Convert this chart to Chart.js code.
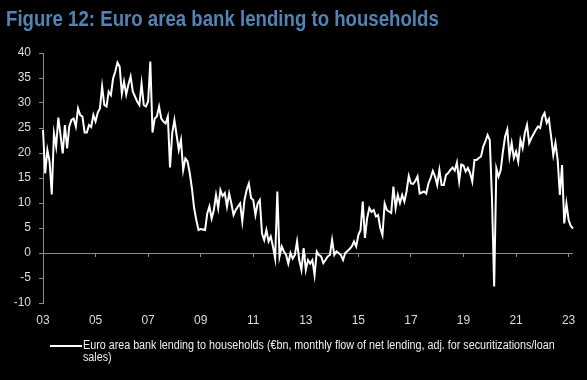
<!DOCTYPE html>
<html>
<head>
<meta charset="utf-8">
<script src="https://cdn.jsdelivr.net/npm/chart.js@4.4.1/dist/chart.umd.min.js"></script>
<style>
html,body{margin:0;padding:0;background:#000;}
#wrap{position:relative;width:587px;height:380px;overflow:hidden;background:#000;}
#chart{position:absolute;left:0;top:0;}
#title{position:absolute;left:6px;top:8px;font-family:"Liberation Sans",Arial,sans-serif;font-weight:bold;font-size:22px;line-height:22px;color:#5283B4;white-space:nowrap;transform:scaleX(0.847);transform-origin:0 0;}
#legLine{position:absolute;left:50px;top:344.5px;width:32px;height:2px;background:#fff;}
#legText{position:absolute;left:83px;top:339px;font-family:"Liberation Sans",Arial,sans-serif;font-size:12px;line-height:12px;color:#f0f0f0;white-space:nowrap;transform:scaleX(0.895);transform-origin:0 0;}
</style>
</head>
<body>
<div id="wrap">
  <canvas id="chart" width="587" height="380"></canvas>
  <div id="title">Figure 12: Euro area bank lending to households</div>
  <div id="legLine"></div>
  <div id="legText"></div>
</div>
<script>
// ---- data ----
const startYear = 2003;
const nMonths = 243; // Jan 2003 .. Mar 2023
const months = [];
for (let i = 0; i < nMonths; i++) {
  const y = startYear + Math.floor(i / 12), m = (i % 12) + 1;
  months.push(y + '-' + String(m).padStart(2, '0'));
}
const seriesLabel = 'Euro area bank lending to households (€bn, monthly flow of net lending, adj. for securitizations/loan sales)';
const legendLines = ['Euro area bank lending to households (€bn, monthly flow of net lending, adj. for securitizations/loan', 'sales)'];
const lending = [
  24.6, 15.9, 20.6, 18.3, 11.7, 23.9, 21.3, 27.1, 23.6, 19.9, 25.6, 20.9,
  25.3, 26.6, 26.9, 25.3, 28.9, 27.6, 27.3, 24.1, 24.1, 25.6, 25.2, 27.6,
  26.3, 28.1, 28.9, 33.3, 29.6, 29.3, 32.3, 31.6, 34.9, 36.3, 38.1, 37.3,
  31.9, 34.3, 31.7, 33.7, 35.3, 32.3, 31.3, 30.3, 29.6, 33.9, 29.6, 29.3,
  30.3, 38.3, 24.1, 26.9, 27.3, 29.3, 26.9, 26.3, 25.9, 27.3, 17.1, 24.0,
  26.6, 23.6, 20.6, 22.6, 16.6, 18.9, 18.3, 16.0, 12.9, 9.0, 6.6, 4.6,
  4.8, 4.7, 4.6, 7.9, 9.3, 6.9, 8.6, 11.6, 9.0, 12.6, 11.4, 12.0,
  9.3, 11.9, 9.9, 7.6, 8.6, 9.3, 9.9, 6.3, 10.6, 12.6, 13.9, 11.0,
  10.6, 7.6, 9.9, 10.6, 3.9, 2.6, 4.6, 2.3, 3.3, 1.3, -1.1, 12.3,
  -0.7, 1.3, 0.3, -0.4, -2.1, 0.0, -1.1, -0.4, 2.3, -1.4, -3.4, 1.0,
  -3.4, -1.4, -2.1, -1.4, -4.4, 0.3, -0.4, -0.7, -2.0, -1.4, -0.7, -0.4,
  2.6, -0.4, 0.3, 0.0, -0.4, -1.4, 0.0, 0.4, 0.8, 1.3, 2.3, 1.3,
  3.6, 4.6, 10.3, 3.0, 7.0, 9.0, 8.2, 8.6, 7.3, 7.6, 5.0, 3.6,
  9.9, 8.6, 8.3, 8.0, 13.3, 9.0, 11.6, 10.0, 11.6, 10.3, 12.3, 15.4,
  13.9, 13.8, 14.4, 15.3, 11.9, 12.1, 12.3, 11.9, 13.9, 15.0, 16.4, 15.3,
  13.6, 16.6, 13.6, 13.6, 15.6, 16.0, 16.6, 17.1, 16.5, 18.1, 14.3, 17.7,
  17.5, 16.3, 17.0, 16.0, 14.3, 18.6, 18.6, 19.0, 19.3, 21.3, 22.3, 23.6,
  22.6, 11.0, -6.7, 16.9, 15.3, 16.6, 20.3, 23.3, 24.7, 19.3, 22.0, 19.0,
  20.3, 18.3, 22.6, 21.0, 24.0, 25.6, 22.0, 23.0, 23.8, 24.6, 25.3, 25.0,
  27.2, 28.0, 26.0, 26.8, 23.3, 19.6, 22.0, 18.6, 11.6, 17.6, 5.9, 9.9,
  6.6, 5.4, 4.9
];
const tickMonths = ['2003-01','2005-01','2007-01','2009-01','2011-01','2013-01','2015-01','2017-01','2019-01','2021-01','2023-01'];
const tickLabels = ['03','05','07','09','11','13','15','17','19','21','23'];
const yTicks = { min: -10, max: 40, step: 5 };

// ---- legend (HTML, wraps like the original) ----
document.getElementById('legText').innerHTML = legendLines.join('<br>');

// ---- chart ----
const FONT = '"Liberation Sans", Arial, sans-serif';
const AXIS = '#8c8c8c';
const LABEL = '#dcdcdc';
function setTicks(scale) {
  scale.ticks = tickMonths.map(m => ({ value: months.indexOf(m) }));
}
new Chart(document.getElementById('chart').getContext('2d'), {
  type: 'line',
  data: {
    labels: months,
    datasets: [{
      label: seriesLabel,
      data: lending,
      borderColor: '#ffffff',
      borderWidth: 2,
      pointRadius: 0,
      tension: 0,
      fill: false
    }]
  },
  options: {
    responsive: false,
    animation: false,
    events: [],
    layout: { padding: { top: 53, right: 14, left: 0, bottom: 0 } },
    plugins: { legend: { display: false }, tooltip: { enabled: false }, title: { display: false } },
    scales: {
      x: {
        type: 'category',
        position: 'bottom',
        offset: false,
        grid: { display: false, drawTicks: false },
        border: { display: false },
        ticks: {
          autoSkip: false, maxRotation: 0, minRotation: 0, padding: 10,
          color: LABEL, font: { family: FONT, size: 12 },
          callback: function (value) {
            const i = tickMonths.indexOf(months[value]);
            return i >= 0 ? tickLabels[i] : '';
          }
        },
        afterBuildTicks: setTicks,
        afterFit: s => { s.height = 77; }
      },
      x0: {
        type: 'category',
        position: { y: 0 },
        offset: false,
        min: months[0],
        max: months[nMonths - 1],
        grid: { drawOnChartArea: false, drawTicks: true, tickLength: 4, color: AXIS, tickColor: AXIS },
        border: { display: false },
        ticks: { display: false },
        afterBuildTicks: setTicks
      },
      y: {
        min: yTicks.min,
        max: yTicks.max,
        ticks: { stepSize: yTicks.step, color: LABEL, padding: 8, font: { family: FONT, size: 12 } },
        grid: {
          color: c => (c.tick && c.tick.value === 0) ? AXIS : 'rgba(0,0,0,0)',
          tickColor: AXIS,
          tickLength: 4,
          drawOnChartArea: true
        },
        border: { display: true, color: AXIS },
        afterFit: s => { s.width = 43; }
      }
    }
  }
});
</script>
</body>
</html>
